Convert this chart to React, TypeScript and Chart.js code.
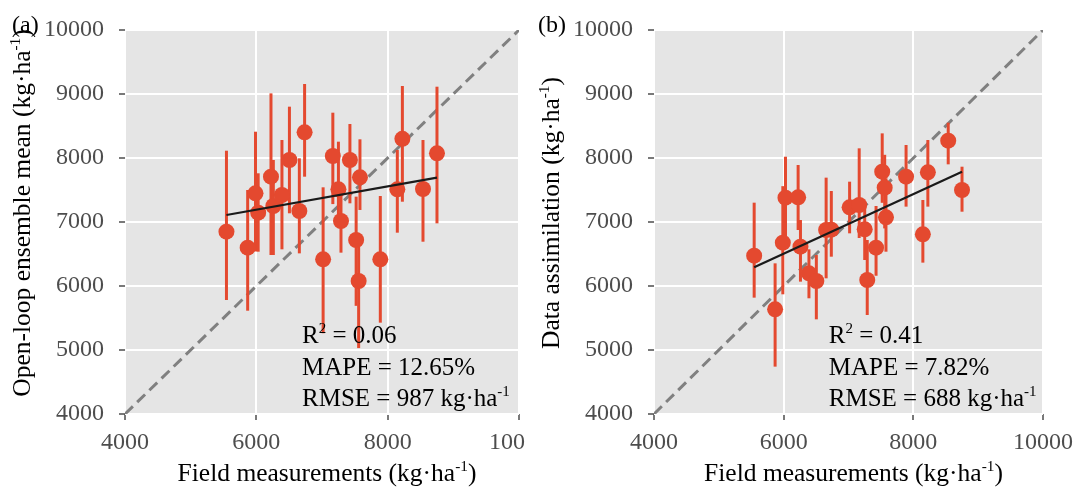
import React, { useEffect, useRef } from "react";
import { Chart, registerables } from "chart.js";
Chart.register(...registerables);

// ---- data ----
const fieldMeasurements = [5545, 5868, 5987, 6028, 6223, 6259, 6390, 6504, 6655, 6735, 7017, 7165, 7250, 7289, 7425, 7520, 7558, 7578, 7888, 8147, 8224, 8538, 8751];

const openLoopMean = [6849, 6599, 7448, 7146, 7708, 7250, 7422, 7969, 7172, 8401, 6417, 8031, 7510, 7016, 7969, 6719, 6078, 7698, 6417, 7510, 8300, 7516, 8073];
const openLoopLow = [5781, 5614, 6540, 6536, 6484, 6484, 6573, 7136, 6510, 7708, 5262, 7280, 6927, 6521, 7292, 5690, 5030, 7188, 5427, 6833, 7317, 6692, 6979];
const openLoopHigh = [8114, 7500, 8411, 7761, 9010, 7969, 8281, 8802, 7995, 9156, 7542, 8708, 8255, 7520, 8531, 7396, 6770, 8292, 7406, 8125, 9125, 8281, 9114];

const assimMean = [6474, 5635, 6677, 7380, 7386, 6615, 6198, 6078, 6875, 6880, 7229, 7266, 6885, 6094, 6599, 7786, 7536, 7073, 7708, 6807, 7776, 8271, 7500];
const assimLow = [5818, 4740, 5870, 6750, 6875, 6068, 5808, 5479, 6120, 6458, 6823, 6750, 6406, 5547, 6160, 7300, 6900, 6536, 7240, 6365, 7240, 7901, 7161];
const assimHigh = [7302, 6354, 7560, 8020, 7891, 7031, 6573, 6484, 7693, 7484, 7630, 8151, 7300, 6719, 7250, 8385, 8050, 7683, 8203, 7344, 8281, 8552, 7864];

// regression line values at the smallest and largest field measurement
const fitOpenLoop = [7110, 7693];
const fitAssim = [6292, 7786];

const xTicks = [4000, 6000, 8000, 10000];
const yTicks = [4000, 5000, 6000, 7000, 8000, 9000, 10000];
const axisRange = [4000, 10000];

const statsOpenLoop = { r2: "0.06", mape: "12.65%", rmse: "987" };
const statsAssim = { r2: "0.41", mape: "7.82%", rmse: "688" };

const FONT = '"Liberation Serif", "Times New Roman", serif';
const RED = "#E4492F";
const TICK_GRAY = "#4D4D4D";

type Part = [string, boolean];

function drawRich(ctx: CanvasRenderingContext2D, parts: Part[], x: number, y: number, size: number, align: "left" | "center") {
  const sup = size * 0.6;
  let total = 0;
  const widths: number[] = [];
  parts.forEach(([t, s]) => {
    ctx.font = `${s ? sup : size}px ${FONT}`;
    const w = ctx.measureText(t).width;
    widths.push(w);
    total += w;
  });
  let cx = align === "center" ? x - total / 2 : x;
  ctx.textAlign = "left";
  ctx.textBaseline = "alphabetic";
  parts.forEach(([t, s], i) => {
    ctx.font = `${s ? sup : size}px ${FONT}`;
    ctx.fillText(t, cx, s ? y - size * 0.4 : y);
    cx += widths[i];
  });
}

type PanelCfg = {
  left: number;
  width: number;
  axisWidth: number;
  padRight: number;
  whiteBg: boolean;
  letter: string;
  letterX: number;
  yTitle: string;
  mean: number[];
  low: number[];
  high: number[];
  fit: number[];
  stats: { r2: string; mape: string; rmse: string };
};

function makeChart(canvas: HTMLCanvasElement, cfg: PanelCfg) {
  const xMin = Math.min(...fieldMeasurements);
  const xMax = Math.max(...fieldMeasurements);
  const points = fieldMeasurements.map((x, i) => ({ x, y: cfg.mean[i] }));

  const panelPlugin = {
    id: "panelDecor",
    beforeDraw(chart: any) {
      const { ctx, chartArea } = chart;
      ctx.save();
      if (cfg.whiteBg) {
        ctx.fillStyle = "#FFFFFF";
        ctx.fillRect(0, 0, chart.width, chart.height);
      }
      ctx.fillStyle = "#E5E5E5";
      ctx.fillRect(chartArea.left, chartArea.top, chartArea.right - chartArea.left, chartArea.bottom - chartArea.top);
      ctx.restore();
    },
    beforeDatasetDraw(chart: any, args: any) {
      if (args.index !== 1) return;
      const { ctx, scales } = chart;
      ctx.save();
      ctx.strokeStyle = RED;
      ctx.lineWidth = 3;
      ctx.lineCap = "butt";
      fieldMeasurements.forEach((x, i) => {
        const px = scales.x.getPixelForValue(x);
        ctx.beginPath();
        ctx.moveTo(px, scales.y.getPixelForValue(cfg.low[i]));
        ctx.lineTo(px, scales.y.getPixelForValue(cfg.high[i]));
        ctx.stroke();
      });
      ctx.restore();
    },
    afterDraw(chart: any) {
      const { ctx, chartArea, scales } = chart;
      ctx.save();
      ctx.fillStyle = "#000000";
      // annotation
      const ax = scales.x.getPixelForValue(6695);
      const b = chartArea.bottom;
      drawRich(ctx, [["R", false], ["2", true], [" = " + cfg.stats.r2, false]], ax, b - 71, 25, "left");
      drawRich(ctx, [["MAPE = " + cfg.stats.mape, false]], ax, b - 39, 25, "left");
      drawRich(ctx, [["RMSE = " + cfg.stats.rmse + " kg·ha", false], ["-1", true]], ax, b - 8, 25, "left");
      // x title
      const cxp = (chartArea.left + chartArea.right) / 2 + 5;
      drawRich(ctx, [["Field measurements (kg·ha", false], ["-1", true], [")", false]], cxp, 481, 25.5, "center");
      // y title
      ctx.save();
      ctx.translate(chartArea.left - 95, 213);
      ctx.rotate(-Math.PI / 2);
      drawRich(ctx, [[cfg.yTitle + " (kg·ha", false], ["-1", true], [")", false]], 0, 0, 25.5, "center");
      ctx.restore();
      // panel letter
      ctx.font = `24px ${FONT}`;
      ctx.textAlign = "left";
      ctx.textBaseline = "alphabetic";
      ctx.fillText(cfg.letter, cfg.letterX, 32);
      ctx.restore();
    },
  };

  return new Chart(canvas, {
    type: "scatter",
    data: {
      datasets: [
        {
          label: "fit",
          data: [
            { x: xMin, y: cfg.fit[0] },
            { x: xMax, y: cfg.fit[1] },
          ],
          showLine: true,
          borderColor: "#1A1A1A",
          borderWidth: 2.2,
          pointRadius: 0,
          order: 0,
        },
        {
          label: "points",
          data: points,
          backgroundColor: RED,
          borderWidth: 0,
          pointRadius: 8,
          order: 1,
        },
        {
          label: "1:1",
          data: [
            { x: axisRange[0], y: axisRange[0] },
            { x: axisRange[1], y: axisRange[1] },
          ],
          showLine: true,
          borderColor: "#808080",
          borderWidth: 3,
          borderDash: [11, 6],
          pointRadius: 0,
          order: 2,
        },
      ],
    },
    options: {
      animation: false,
      responsive: false,
      maintainAspectRatio: false,
      devicePixelRatio: 1,
      events: [],
      layout: { padding: { left: 0, right: cfg.padRight, top: 30, bottom: 0 } },
      plugins: { legend: { display: false }, tooltip: { enabled: false } },
      scales: {
        x: {
          type: "linear",
          min: axisRange[0],
          max: axisRange[1],
          afterBuildTicks: (s: any) => {
            s.ticks = xTicks.map((v) => ({ value: v }));
          },
          afterFit: (s: any) => {
            s.height = 73;
          },
          ticks: {
            color: TICK_GRAY,
            font: { family: FONT, size: 24 },
            padding: 8,
            maxRotation: 0,
            autoSkip: false,
            callback: (v: any) => String(v),
          },
          grid: { color: "#FFFFFF", lineWidth: 2, tickColor: TICK_GRAY, tickLength: 6, tickWidth: 1.5 },
          border: { display: false },
        },
        y: {
          type: "linear",
          min: axisRange[0],
          max: axisRange[1],
          afterBuildTicks: (s: any) => {
            s.ticks = yTicks.map((v) => ({ value: v }));
          },
          afterFit: (s: any) => {
            s.width = cfg.axisWidth;
          },
          ticks: {
            color: TICK_GRAY,
            font: { family: FONT, size: 24 },
            padding: 15,
            autoSkip: false,
            callback: (v: any) => String(v),
          },
          grid: { color: "#FFFFFF", lineWidth: 2, tickColor: TICK_GRAY, tickLength: 6, tickWidth: 1.5 },
          border: { display: false },
        },
      },
    },
    plugins: [panelPlugin],
  } as any);
}

function Panel({ cfg, z }: { cfg: PanelCfg; z: number }) {
  const ref = useRef<HTMLCanvasElement | null>(null);
  useEffect(() => {
    if (!ref.current) return;
    const chart = makeChart(ref.current, cfg);
    return () => chart.destroy();
  }, []);
  return (
    <canvas
      ref={ref}
      width={cfg.width}
      height={487}
      style={{ position: "absolute", left: cfg.left, top: 0, width: cfg.width, height: 487, zIndex: z, display: "block" }}
    />
  );
}

const panelA: PanelCfg = {
  left: 0,
  width: 560,
  axisWidth: 125,
  padRight: 41,
  whiteBg: true,
  letter: "(a)",
  letterX: 12,
  yTitle: "Open-loop ensemble mean",
  mean: openLoopMean,
  low: openLoopLow,
  high: openLoopHigh,
  fit: fitOpenLoop,
  stats: statsOpenLoop,
};

const panelB: PanelCfg = {
  left: 525,
  width: 556,
  axisWidth: 129,
  padRight: 33,
  whiteBg: true,
  letter: "(b)",
  letterX: 13,
  yTitle: "Data assimilation",
  mean: assimMean,
  low: assimLow,
  high: assimHigh,
  fit: fitAssim,
  stats: statsAssim,
};

export default function App() {
  return (
    <div style={{ position: "absolute", left: 0, top: 0, width: 1081, height: 487, background: "#FFFFFF", overflow: "hidden" }}>
      <Panel cfg={panelA} z={1} />
      <Panel cfg={panelB} z={2} />
    </div>
  );
}
